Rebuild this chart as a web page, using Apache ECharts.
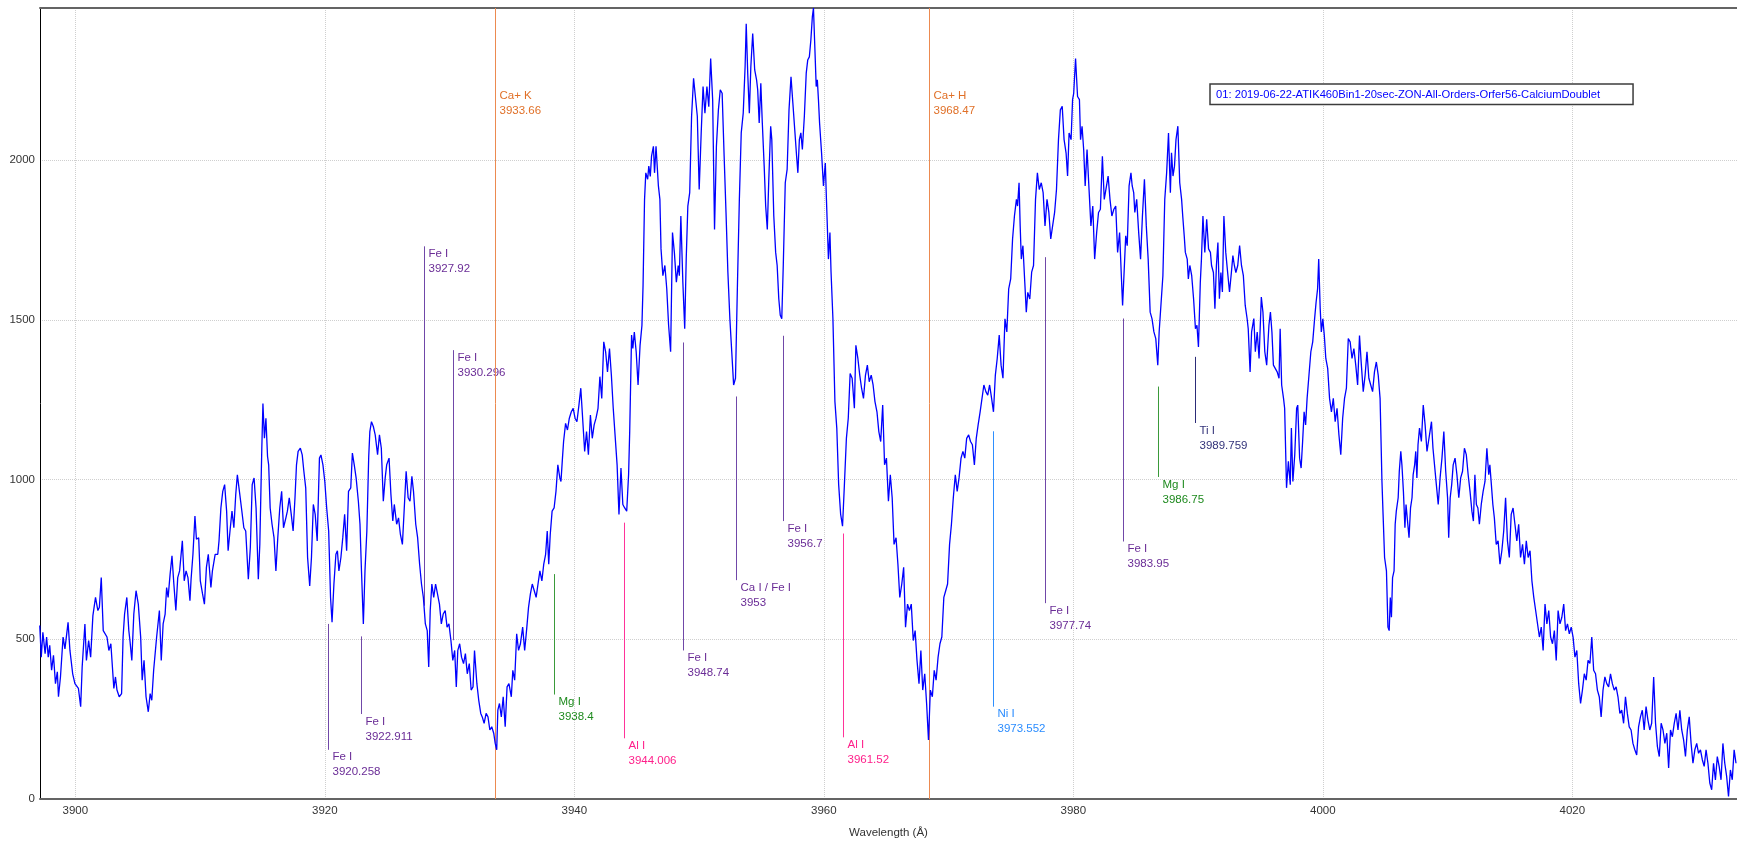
<!DOCTYPE html>
<html>
<head>
<meta charset="utf-8">
<script src="https://cdn.jsdelivr.net/npm/echarts@6/dist/echarts.min.js"></script>
<style>
  html, body { margin: 0; padding: 0; background: #fff; }
  #chart { width: 1737px; height: 844px; }
</style>
</head>
<body>
<div id="chart"></div>
<script>
// Solar spectrum around the Ca II H & K doublet: [wavelength (Å), intensity]
const violetWing = [
[3897.15,543],[3897.27,444],[3897.40,522],[3897.58,455],[3897.70,507],[3897.83,444],[3897.95,481],[3898.10,403],[3898.25,450],[3898.41,361],[3898.56,398],[3898.65,320],[3898.81,382],[3899.02,507],[3899.17,470],[3899.42,553],[3899.57,465],[3899.79,392],[3899.97,361],[3900.25,346],[3900.43,289],[3900.55,413],[3900.77,548],[3900.89,434],[3901.07,496],[3901.23,444],[3901.41,574],[3901.62,631],[3901.81,590],[3901.93,600],[3902.08,693],[3902.24,527],[3902.39,527],[3902.54,507],[3902.69,465],[3902.85,486],[3903.09,346],[3903.22,382],[3903.34,341],[3903.52,320],[3903.71,330],[3903.83,507],[3903.95,579],[3904.13,631],[3904.29,527],[3904.38,496],[3904.53,434],[3904.69,579],[3904.87,652],[3905.05,610],[3905.24,507],[3905.36,372],[3905.51,434],[3905.67,320],[3905.85,273],[3906.00,330],[3906.13,309],[3906.28,403],[3906.52,507],[3906.74,590],[3906.89,434],[3907.04,548],[3907.20,579],[3907.32,662],[3907.44,631],[3907.60,704],[3907.75,761],[3907.90,673],[3908.06,590],[3908.21,693],[3908.36,714],[3908.58,808],[3908.73,683],[3908.88,714],[3909.03,693],[3909.19,621],[3909.28,688],[3909.43,766],[3909.59,886],[3909.71,813],[3909.89,818],[3910.02,683],[3910.20,642],[3910.35,610],[3910.51,725],[3910.66,766],[3910.87,662],[3910.99,714],[3911.21,766],[3911.42,766],[3911.52,808],[3911.67,911],[3911.82,963],[3911.97,984],[3912.13,901],[3912.25,777],[3912.40,839],[3912.56,901],[3912.71,849],[3912.86,953],[3912.99,1015],[3913.17,958],[3913.32,911],[3913.51,849],[3913.66,839],[3913.87,688],[3914.03,787],[3914.18,984],[3914.33,1005],[3914.49,911],[3914.67,688],[3914.79,797],[3914.95,1098],[3915.04,1238],[3915.16,1129],[3915.28,1192],[3915.41,1072],[3915.50,1046],[3915.62,911],[3915.77,860],[3915.93,818],[3916.08,714],[3916.23,818],[3916.39,911],[3916.54,963],[3916.69,849],[3916.88,880],[3917.00,901],[3917.15,943],[3917.31,891],[3917.46,839],[3917.61,943],[3917.73,1046],[3917.86,1088],[3918.04,1098],[3918.19,1077],[3918.32,1026],[3918.47,974],[3918.62,756],[3918.79,667],[3918.93,756],[3919.08,922],[3919.23,891],[3919.39,808],[3919.57,1067],[3919.69,1077],[3919.85,1046],[3920.00,994],[3920.15,911],[3920.31,839],[3920.46,631],[3920.58,553],[3920.73,673],[3920.89,766],[3921.01,777],[3921.13,714],[3921.29,756],[3921.44,818],[3921.59,891],[3921.75,777],[3921.90,963],[3922.08,974],[3922.21,1083],[3922.36,1046],[3922.51,1005],[3922.69,932],[3922.82,860],[3922.94,714],[3923.09,548],[3923.22,714],[3923.37,839],[3923.52,1072],[3923.61,1150],[3923.74,1181],[3923.89,1166],[3924.04,1140],[3924.23,1078],[3924.38,1140],[3924.53,1098],[3924.69,932],[3924.84,1005],[3924.96,1046],[3925.15,1067],[3925.30,953],[3925.45,870],[3925.57,922],[3925.76,860],[3925.91,880],[3926.06,828],[3926.22,797],[3926.37,911],[3926.52,1026],[3926.68,943],[3926.83,932],[3926.98,1010],[3927.11,963],[3927.29,860],[3927.44,818],[3927.60,735],[3927.75,673],[3927.90,631],[3928.06,548],[3928.21,527],[3928.33,413],[3928.45,590],[3928.58,673],[3928.73,631],[3928.88,673],[3929.03,678],[3929.19,610],[3929.34,548],[3929.49,579],[3929.65,590],[3929.80,538],[3929.95,548],[3930.11,496],[3930.26,434],[3930.41,465],[3930.54,351],[3930.66,465],[3930.81,486],[3930.96,444],[3931.12,424],[3931.27,455],[3931.42,392],[3931.58,424],[3931.73,341],[3931.88,351],[3932.00,465],[3932.19,361],[3932.34,309],[3932.50,268],[3932.62,257],[3932.77,237],[3932.93,268],[3933.08,257],[3933.23,216],[3933.38,226],[3933.54,206],[3933.66,174],[3933.78,154],[3933.87,278],[3934.00,299],[3934.15,257],[3934.30,320],[3934.46,226],[3934.61,351],[3934.76,361],[3934.95,320],[3935.07,403],[3935.22,372],[3935.38,517],[3935.53,465],[3935.68,486],[3935.86,538],[3936.02,465],[3936.17,527],[3936.33,600],[3936.48,642],[3936.63,673],[3936.79,652],[3936.94,631],[3937.09,673],[3937.24,714],[3937.40,683],[3937.55,735],[3937.70,766],[3937.83,839],[3937.95,735],[3938.07,828],[3938.22,901],[3938.38,911],[3938.53,963],[3938.68,1046],[3938.84,1005],[3938.93,994],[3939.05,1067],[3939.14,1119],[3939.30,1176],[3939.45,1155],[3939.60,1192],[3939.76,1212],[3939.91,1223],[3940.06,1192],[3940.21,1181],[3940.37,1233]
];

const hkCore = [
[3940.52,1286],[3940.83,1088],[3940.98,1150],[3941.13,1078],[3941.29,1202],[3941.44,1129],[3941.59,1171],[3941.74,1192],[3941.90,1223],[3942.05,1322],[3942.20,1254],[3942.36,1431],[3942.51,1400],[3942.66,1337],[3942.82,1410],[3942.97,1327],[3943.12,1223],[3943.28,1223],[3943.43,1046],[3943.58,891],[3943.74,1036],[3943.89,922],[3944.04,911],[3944.20,901],[3944.35,1015],[3944.44,1150],[3944.59,1452],[3944.69,1410],[3944.81,1462],[3944.96,1400],[3945.11,1296],[3945.27,1420],[3945.42,1482],[3945.51,1607],[3945.63,1877],[3945.73,1960],[3945.88,1940],[3945.97,1981],[3946.09,1949],[3946.19,2012],[3946.34,2043],[3946.43,1960],[3946.55,2043],[3946.74,1919],[3946.86,1877],[3946.95,1722],[3947.10,1638],[3947.26,1670],[3947.41,1597],[3947.56,1482],[3947.72,1400],[3947.87,1773],[3948.02,1711],[3948.18,1618],[3948.33,1670],[3948.42,1638],[3948.54,1825],[3948.70,1618],[3948.85,1472],[3948.97,1690],[3949.10,1856],[3949.25,1898],[3949.40,2137],[3949.56,2256],[3949.71,2261],[3949.86,2137],[3950.01,1908],[3950.17,2085],[3950.32,2230],[3950.47,2147],[3950.63,2230],[3950.78,2167],[3950.93,2318],[3951.09,2189],[3951.24,1783],[3951.39,2043],[3951.55,2157],[3951.70,2220],[3951.85,2209],[3952.01,2012],[3952.16,1836],[3952.31,1649],[3952.47,1503],[3952.62,1400],[3952.77,1296],[3952.92,1317],[3953.08,1617],[3953.23,1877],[3953.38,2085],[3953.54,2147],[3953.69,2292],[3953.78,2427],[3953.90,2272],[3954.03,2147],[3954.15,2292],[3954.30,2396],[3954.46,2282],[3954.61,2251],[3954.70,2220],[3954.82,2116],[3954.95,2240],[3955.07,2116],[3955.22,1981],[3955.34,1856],[3955.47,1783],[3955.59,1940],[3955.74,2106],[3955.83,2064],[3955.99,1825],[3956.14,1711],[3956.26,1670],[3956.39,1566],[3956.51,1514],[3956.63,1503],[3956.75,1670],[3956.91,1929],[3957.06,1971],[3957.21,2157],[3957.37,2261],[3957.52,2178],[3957.67,2095],[3957.82,2012],[3957.92,1960],[3958.04,2064],[3958.16,2085],[3958.28,2033],[3958.44,2137],[3958.59,2272],[3958.71,2313],[3958.84,2323],[3958.96,2375],[3959.08,2448],[3959.17,2476],[3959.26,2375],[3959.39,2230],[3959.48,2251],[3959.57,2189],[3959.66,2116],[3959.82,2022],[3959.97,1919],[3960.12,1991],[3960.21,1877],[3960.37,1690],[3960.49,1773],[3960.58,1649],[3960.73,1503],[3960.89,1244],[3961.04,1161],[3961.19,984],[3961.35,891],[3961.50,854],[3961.65,984],[3961.81,1129],[3961.96,1192],[3962.11,1332],[3962.27,1317],[3962.45,1223],[3962.57,1420],[3962.73,1379],[3962.88,1327],[3963.03,1285],[3963.18,1254],[3963.34,1327],[3963.49,1358],[3963.64,1306],[3963.80,1327],[3963.95,1296],[3964.10,1244],[3964.26,1212],[3964.41,1150],[3964.56,1119],[3964.72,1233],[3964.87,1046],[3965.02,1067],[3965.18,932],[3965.33,1015],[3965.48,943],[3965.63,797],[3965.79,818],[3965.94,735],[3966.09,631],[3966.25,673],[3966.40,725],[3966.55,538],[3966.71,610],[3966.86,590],[3967.01,610],[3967.17,496],[3967.32,527],[3967.47,434],[3967.63,361],[3967.78,465],[3967.93,341],[3968.09,392],[3968.24,299],[3968.39,185],[3968.54,341],[3968.70,320],[3968.85,403],[3969.00,372],[3969.16,444],[3969.31,486],[3969.46,507],[3969.62,631],[3969.77,652],[3969.92,673],[3970.08,797],[3970.23,860],[3970.38,943],[3970.54,1015],[3970.69,963],[3970.84,1005],[3971.00,1067],[3971.15,1088],[3971.30,1067],[3971.45,1129],[3971.61,1140],[3971.76,1119],[3971.91,1109],[3972.07,1046],[3972.22,1129],[3972.37,1171],[3972.53,1212],[3972.68,1207],[3972.83,1296],[3972.99,1275],[3973.14,1264],[3973.29,1296],[3973.45,1254],[3973.60,1212],[3973.75,1327],[3973.90,1379],[3974.06,1452],[3974.21,1358],[3974.36,1317],[3974.52,1503],[3974.67,1462],[3974.82,1597],[3974.98,1628],[3975.13,1753],[3975.28,1825],[3975.44,1877],[3975.53,1856],[3975.65,1929],[3975.74,1794],[3975.83,1690],[3975.96,1732],[3976.11,1617],[3976.23,1524],[3976.35,1586],[3976.51,1565],[3976.66,1649],[3976.81,1670],[3976.97,1877],[3977.12,1960],[3977.27,1908],[3977.43,1929],[3977.58,1898],[3977.73,1794],[3977.89,1877],[3978.04,1836],[3978.19,1753],[3978.34,1794],[3978.50,1836],[3978.65,1908],[3978.81,2064],[3978.96,2157],[3979.11,2168],[3979.26,2064],[3979.42,2022],[3979.54,1950],[3979.66,2085],[3979.82,2064],[3979.94,2189],[3980.03,2209],[3980.18,2318],[3980.34,2199],[3980.49,2189],[3980.58,2064],[3980.70,2106],[3980.83,2033],[3980.95,1919],[3981.10,2033],[3981.26,1908],[3981.41,1794],[3981.56,1856],[3981.71,1690],[3981.87,1773],[3982.02,1836],[3982.17,1846],[3982.33,2012],[3982.48,1877],[3982.63,1877],[3982.79,1950],[3982.94,1877],[3983.09,1825],[3983.25,1846],[3983.40,1856],[3983.55,1711],[3983.71,1773],[3983.86,1628],[3983.95,1545],[3984.07,1649],[3984.20,1763],[3984.32,1732],[3984.47,1919],[3984.62,1960],[3984.72,1919],[3984.84,1898],[3984.93,1836],[3985.08,1877],[3985.24,1773],[3985.39,1690],[3985.54,1825],[3985.70,1940],[3985.85,1794],[3986.00,1690],[3986.16,1524],[3986.31,1503],[3986.46,1462],[3986.61,1441],[3986.77,1358]
];

const redWing = [
[3986.88,1462],[3987.03,1462],[3987.18,1638],[3987.33,1877],[3987.48,1960],[3987.63,2085],[3987.78,1898],[3987.87,2023],[3987.99,1950],[3988.11,1981],[3988.23,2064],[3988.38,2106],[3988.53,1929],[3988.68,1877],[3988.77,1825],[3988.89,1763],[3988.98,1711],[3989.13,1690],[3989.22,1628],[3989.34,1670],[3989.49,1638],[3989.64,1566],[3989.79,1472],[3989.91,1483],[3990.03,1415],[3990.18,1618],[3990.27,1690],[3990.39,1825],[3990.54,1711],[3990.69,1815],[3990.84,1722],[3990.99,1711],[3991.08,1670],[3991.23,1648],[3991.35,1535],[3991.47,1670],[3991.59,1742],[3991.71,1566],[3991.83,1648],[3991.95,1587],[3992.07,1825],[3992.22,1711],[3992.37,1648],[3992.52,1587],[3992.67,1648],[3992.79,1701],[3992.91,1670],[3993.03,1648],[3993.18,1670],[3993.33,1732],[3993.48,1670],[3993.63,1638],[3993.78,1545],[3993.93,1504],[3994.02,1472],[3994.17,1337],[3994.29,1462],[3994.47,1504],[3994.59,1400],[3994.74,1462],[3994.89,1379],[3995.07,1571],[3995.20,1524],[3995.35,1400],[3995.50,1358],[3995.68,1483],[3995.80,1524],[3995.92,1462],[3996.04,1358],[3996.19,1358],[3996.34,1337],[3996.49,1317],[3996.58,1472],[3996.70,1296],[3996.85,1254],[3996.94,1223],[3997.09,974],[3997.24,1057],[3997.39,984],[3997.48,1161],[3997.60,994],[3997.75,1078],[3997.90,1223],[3997.99,1233],[3998.14,1067],[3998.26,1036],[3998.38,1119],[3998.50,1212],[3998.62,1171],[3998.74,1254],[3998.89,1327],[3999.04,1400],[3999.19,1431],[3999.34,1503],[3999.46,1555],[3999.58,1597],[3999.67,1690],[3999.79,1535],[3999.88,1462],[4000.00,1503],[4000.12,1451],[4000.24,1379],[4000.39,1348],[4000.54,1254],[4000.69,1212],[4000.84,1254],[4000.99,1181],[4001.14,1223],[4001.29,1140],[4001.44,1078],[4001.59,1192],[4001.74,1254],[4001.89,1286],[4002.04,1441],[4002.19,1431],[4002.34,1379],[4002.49,1410],[4002.64,1358],[4002.79,1296],[4002.94,1451],[4003.09,1358],[4003.24,1275],[4003.39,1327],[4003.54,1400],[4003.69,1317],[4003.84,1296],[4003.99,1275],[4004.14,1337],[4004.29,1368],[4004.44,1327],[4004.59,1254],[4004.74,994],[4004.83,891],[4004.95,756],[4005.10,714],[4005.22,538],[4005.32,527],[4005.41,631],[4005.50,569],[4005.59,693],[4005.71,714],[4005.80,860],[4005.89,901],[4006.04,943],[4006.13,1026],[4006.25,1088],[4006.34,1046],[4006.46,963],[4006.58,849],[4006.67,922],[4006.79,922],[4006.91,818],[4007.03,911],[4007.15,943],[4007.24,1015],[4007.36,1046],[4007.45,1088],[4007.54,1005],[4007.63,1109],[4007.75,1161],[4007.90,1119],[4008.05,1233],[4008.20,1171],[4008.35,1088],[4008.47,1119],[4008.59,1150],[4008.71,1181],[4008.83,1098],[4008.95,1098],[4009.10,984],[4009.25,922],[4009.40,1005],[4009.55,1067],[4009.70,1150],[4009.85,1026],[4010.00,943],[4010.09,818],[4010.21,943],[4010.33,984],[4010.45,1046],[4010.60,1067],[4010.75,1015],[4010.90,943],[4011.05,1005],[4011.20,1026],[4011.35,1098],[4011.50,1078],[4011.65,1015],[4011.80,963],[4011.95,901],[4012.07,870],[4012.19,1015],[4012.31,922],[4012.43,911],[4012.55,860],[4012.70,922],[4012.85,963],[4013.00,994],[4013.15,1098],[4013.30,1015],[4013.39,1046],[4013.51,984],[4013.63,922],[4013.75,880],[4013.90,797],[4014.05,808],[4014.20,735],[4014.35,777],[4014.50,839],[4014.65,943],[4014.80,808],[4014.95,756],[4015.10,891],[4015.25,911],[4015.40,860],[4015.55,808],[4015.70,860],[4015.85,756],[4016.01,797],[4016.16,735],[4016.31,808],[4016.46,756],[4016.61,777],[4016.76,683],[4016.91,631],[4017.06,590],[4017.21,590],[4017.36,507],[4017.51,538],[4017.66,465],[4017.81,610],[4017.96,548],[4018.11,590],[4018.26,507],[4018.41,486],[4018.56,527],[4018.71,434],[4018.86,590],[4019.01,548],[4019.16,569],[4019.31,610],[4019.46,527],[4019.61,548],[4019.76,517],[4019.91,538],[4020.06,507],[4020.21,444],[4020.36,465],[4020.51,361],[4020.66,299],[4020.81,341],[4020.96,392],[4021.11,372],[4021.26,434],[4021.41,424],[4021.56,507],[4021.71,403],[4021.86,392],[4022.01,341],[4022.16,320],[4022.31,257],[4022.46,341],[4022.61,382],[4022.76,361],[4022.91,351],[4023.06,392],[4023.21,361],[4023.36,341],[4023.51,351],[4023.66,320],[4023.81,268],[4023.96,278],[4024.11,237],[4024.26,320],[4024.41,268],[4024.56,226],[4024.71,216],[4024.86,174],[4025.01,154],[4025.16,138],[4025.31,226],[4025.46,257],[4025.61,278],[4025.76,216],[4025.91,289],[4026.06,247],[4026.21,216],[4026.36,237],[4026.52,382],[4026.67,237],[4026.82,164],[4026.97,133],[4027.12,237],[4027.27,216],[4027.42,174],[4027.57,206],[4027.72,97],[4027.87,216],[4028.02,195],[4028.17,237],[4028.32,268],[4028.47,216],[4028.62,278],[4028.77,216],[4028.92,185],[4029.07,133],[4029.22,216],[4029.37,257],[4029.52,174],[4029.67,112],[4029.82,154],[4029.97,174],[4030.12,143],[4030.27,154],[4030.42,123],[4030.57,102],[4030.72,154],[4030.87,112],[4031.02,50],[4031.17,29],[4031.32,112],[4031.47,60],[4031.62,133],[4031.77,102],[4031.92,60],[4032.07,174],[4032.22,112],[4032.37,71],[4032.52,8],[4032.67,91],[4032.82,60],[4032.97,154],[4033.12,112]
];

const seriesName = '01: 2019-06-22-ATIK460Bin1-20sec-ZON-All-Orders-Orfer56-CalciumDoublet';

// Identified absorption lines: species, rest wavelength, and the intensity span of each marker
// (lineFrom = end near the spectrum, lineTo = end carrying the label)
const lineNames = ['Fe I', 'Fe I', 'Fe I', 'Fe I', 'Mg I', 'Al I', 'Fe I', 'Ca I / Fe I', 'Fe I', 'Al I', 'Ni I', 'Fe I', 'Fe I', 'Mg I', 'Ti I'];
const lineWaves = [3920.258, 3922.911, 3927.92, 3930.296, 3938.4, 3944.006, 3948.74, 3953, 3956.7, 3961.52, 3973.552, 3977.74, 3983.95, 3986.75, 3989.759];
const lineFrom  = [548, 509, 605, 497, 704, 865, 1429, 1260, 1450, 831, 1151, 1696, 1504, 1291, 1384];
const lineTo    = [154, 266, 1730, 1405, 327, 190, 465, 685, 870, 193, 289, 613, 806, 1008, 1177];

// Ionised calcium doublet, drawn across the full height
const caNames = ['Ca+ K', 'Ca+ H'];
const caWaves = [3933.66, 3968.47];
const caLabelLevel = 2226;

const wlMin = 3897.17;
const wlMax = 4033.2;
const yMax = 2476;

const FONT = '"Liberation Sans", Arial, Helvetica, sans-serif';

const speciesStyle = {
  'Fe I':        { line: '#7048a8', text: '#6a2c96' },
  'Ca I / Fe I': { line: '#7048a8', text: '#6a2c96' },
  'Mg I':        { line: '#3a9a3a', text: '#1e8a1e' },
  'Al I':        { line: '#ff3399', text: '#ff1f8a' },
  'Ni I':        { line: '#2e8fff', text: '#2a8cff' },
  'Ti I':        { line: '#2c2c78', text: '#33337a' },
  'Ca+':         { line: '#ec8a50', text: '#e07028' }
};

const markers = [];
lineWaves.forEach((w, i) => {
  const st = speciesStyle[lineNames[i]];
  markers.push({ wave: w, from: lineFrom[i], to: lineTo[i], labelAt: lineTo[i],
                 text: lineNames[i] + '\n' + String(w), line: st.line, color: st.text });
});
caWaves.forEach((w, i) => {
  const st = speciesStyle['Ca+'];
  markers.push({ wave: w, from: 0, to: yMax, labelAt: caLabelLevel,
                 text: caNames[i] + '\n' + String(w), line: st.line, color: st.text });
});

const spectrum = violetWing.concat(hkCore, redWing);

const plainNumber = v => String(Math.round(v));

const chart = echarts.init(document.getElementById('chart'), null, { renderer: 'canvas' });

chart.setOption({
  animation: false,
  backgroundColor: '#ffffff',
  textStyle: { fontFamily: FONT },
  grid: { left: 40, right: 0, top: 8, bottom: 41, containLabel: false },
  legend: {
    show: true,
    data: [seriesName],
    left: 1210,
    top: 84,
    icon: 'none',
    itemWidth: 0,
    itemHeight: 14,
    padding: [4, 33, 4, 1],
    borderColor: '#3c3c3c',
    borderWidth: 1.5,
    backgroundColor: '#ffffff',
    selectedMode: false,
    textStyle: { color: '#0000ff', fontSize: 11.2, fontFamily: FONT }
  },
  xAxis: [{
    type: 'value',
    min: wlMin,
    max: wlMax,
    splitNumber: 7,
    name: 'Wavelength (Å)',
    nameLocation: 'middle',
    nameGap: 28,
    nameTextStyle: { color: '#333', fontSize: 11.5, fontFamily: FONT },
    axisLine: { show: true, onZero: false, lineStyle: { color: '#646464', width: 2 } },
    axisTick: { show: false },
    axisLabel: { color: '#333', fontSize: 11.5, fontFamily: FONT, margin: 6,
                 showMinLabel: false, showMaxLabel: false, formatter: plainNumber },
    splitLine: { show: true, lineStyle: { color: '#cfcfcf', type: 'dotted', width: 1 } }
  }, {
    type: 'value',
    position: 'top',
    min: wlMin,
    max: wlMax,
    axisLine: { show: true, onZero: false, lineStyle: { color: '#646464', width: 2 } },
    axisTick: { show: false },
    axisLabel: { show: false },
    splitLine: { show: false }
  }],
  yAxis: {
    type: 'value',
    min: 0,
    max: yMax,
    interval: 500,
    axisLine: { show: true, lineStyle: { color: '#000000', width: 1 } },
    axisTick: { show: false },
    axisLabel: { color: '#333', fontSize: 11.5, fontFamily: FONT, margin: 5,
                 showMaxLabel: false, formatter: plainNumber },
    splitLine: { show: true, lineStyle: { color: '#cfcfcf', type: 'dotted', width: 1 } }
  },
  series: [{
    type: 'custom',
    name: 'lines',
    xAxisIndex: 0,
    silent: true,
    clip: false,
    z: 1,
    encode: { x: 0, y: [1, 2] },
    data: markers.map(m => [m.wave, m.from, m.to, m.labelAt]),
    renderItem: function (params, api) {
      const m = markers[params.dataIndex];
      const a = api.coord([api.value(0), api.value(1)]);
      const b = api.coord([api.value(0), api.value(2)]);
      const l = api.coord([api.value(0), api.value(3)]);
      const x = Math.round(a[0]) + 0.5;
      return {
        type: 'group',
        children: [{
          type: 'line',
          shape: { x1: x, y1: a[1], x2: x, y2: b[1] },
          style: { stroke: m.line, lineWidth: 1 }
        }, {
          type: 'text',
          style: {
            x: x + 4, y: l[1],
            text: m.text,
            fill: m.color,
            fontSize: 11.5,
            fontFamily: FONT,
            lineHeight: 15,
            align: 'left',
            verticalAlign: 'top'
          }
        }]
      };
    }
  }, {
    type: 'line',
    name: seriesName,
    xAxisIndex: 0,
    data: spectrum,
    showSymbol: false,
    symbol: 'none',
    z: 3,
    lineStyle: { color: '#0000ff', width: 1.3 },
    itemStyle: { color: '#0000ff' }
  }]
});
</script>
</body>
</html>
